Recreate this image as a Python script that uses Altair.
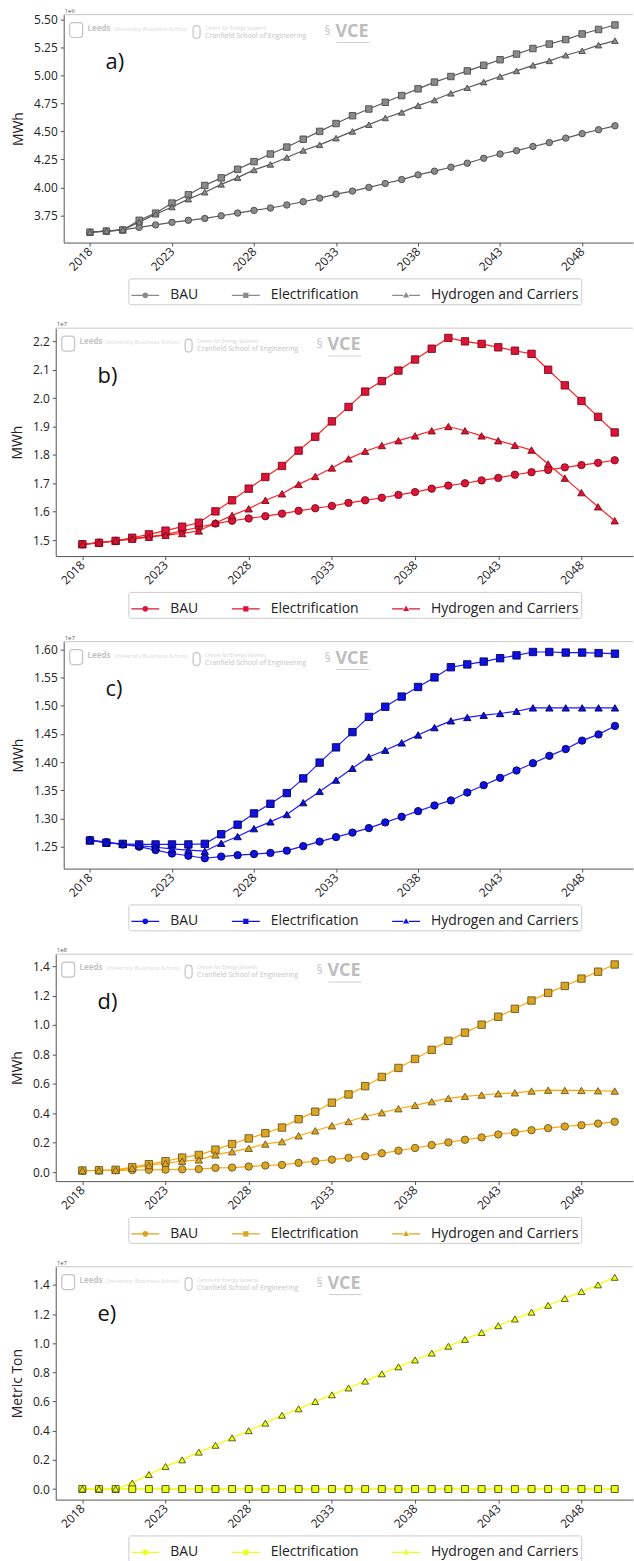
import altair as alt
import pandas as pd

# ---------------------------------------------------------------- data
years = list(range(2018, 2051))
series_names = ["BAU", "Electrification", "Hydrogen and Carriers"]
x_ticks = [2018, 2023, 2028, 2033, 2038, 2043, 2048]

# a) MWh, x1e6
a_bau = [3.60, 3.61, 3.62, 3.643, 3.665, 3.688, 3.706, 3.723, 3.747, 3.771, 3.795,
         3.816, 3.843, 3.872, 3.904, 3.94, 3.967, 4.0, 4.035, 4.07, 4.112, 4.145,
         4.18, 4.216, 4.26, 4.298, 4.328, 4.365, 4.40, 4.44, 4.48, 4.515, 4.55]
a_elec = [3.60, 3.61, 3.62, 3.706, 3.77, 3.86, 3.934, 4.017, 4.085, 4.162, 4.23,
          4.298, 4.36, 4.43, 4.50, 4.57, 4.64, 4.70, 4.76, 4.82, 4.88, 4.94,
          4.99, 5.04, 5.09, 5.14, 5.19, 5.24, 5.28, 5.32, 5.37, 5.41, 5.45]
a_h2 = [3.60, 3.61, 3.62, 3.69, 3.76, 3.825, 3.895, 3.957, 4.027, 4.087, 4.156,
        4.205, 4.267, 4.33, 4.38, 4.44, 4.50, 4.56, 4.62, 4.67, 4.73, 4.78,
        4.84, 4.89, 4.94, 4.99, 5.04, 5.09, 5.13, 5.18, 5.22, 5.27, 5.31]

# b) MWh, x1e7
b_bau = [1.485, 1.491, 1.497, 1.505, 1.512, 1.519, 1.532, 1.545, 1.558, 1.568, 1.576,
         1.584, 1.593, 1.603, 1.612, 1.62, 1.631, 1.64, 1.649, 1.659, 1.669, 1.681,
         1.692, 1.70, 1.71, 1.719, 1.73, 1.739, 1.747, 1.756, 1.764, 1.772, 1.781]
b_elec = [1.485, 1.49, 1.497, 1.508, 1.52, 1.533, 1.547, 1.561, 1.601, 1.64, 1.681,
          1.722, 1.761, 1.815, 1.864, 1.918, 1.969, 2.023, 2.06, 2.097, 2.136, 2.174,
          2.212, 2.2, 2.191, 2.179, 2.167, 2.156, 2.10, 2.045, 1.99, 1.934, 1.879]
b_h2 = [1.485, 1.49, 1.497, 1.503, 1.51, 1.517, 1.523, 1.532, 1.56, 1.587, 1.61,
        1.64, 1.663, 1.696, 1.724, 1.754, 1.786, 1.813, 1.833, 1.85, 1.867, 1.885,
        1.90, 1.885, 1.867, 1.85, 1.834, 1.817, 1.768, 1.718, 1.667, 1.617, 1.568]

# c) MWh, x1e7
c_bau = [1.262, 1.258, 1.254, 1.25, 1.244, 1.238, 1.234, 1.2295, 1.2325, 1.235, 1.237,
         1.239, 1.243, 1.251, 1.259, 1.267, 1.275, 1.283, 1.293, 1.303, 1.313, 1.323,
         1.332, 1.346, 1.359, 1.372, 1.385, 1.398, 1.411, 1.423, 1.438, 1.449, 1.464]
c_elec = [1.261, 1.257, 1.255, 1.254, 1.254, 1.254, 1.254, 1.255, 1.272, 1.289, 1.309,
          1.326, 1.345, 1.371, 1.399, 1.426, 1.453, 1.48, 1.498, 1.516, 1.533, 1.55,
          1.568, 1.573, 1.578, 1.584, 1.589, 1.595, 1.595, 1.594, 1.594, 1.593, 1.592]
c_h2 = [1.261, 1.257, 1.254, 1.252, 1.249, 1.246, 1.244, 1.242, 1.256, 1.268, 1.282,
        1.294, 1.307, 1.328, 1.348, 1.368, 1.389, 1.409, 1.421, 1.434, 1.448, 1.461,
        1.473, 1.479, 1.483, 1.486, 1.49, 1.496, 1.496, 1.496, 1.496, 1.496, 1.496]

# d) MWh, x1e8
d_bau = [0.010, 0.011, 0.012, 0.014, 0.016, 0.017, 0.019, 0.021, 0.029, 0.031, 0.038,
         0.045, 0.049, 0.063, 0.074, 0.085, 0.097, 0.108, 0.128, 0.146, 0.164, 0.184,
         0.202, 0.22, 0.236, 0.256, 0.27, 0.285, 0.299, 0.31, 0.319, 0.33, 0.342]
d_elec = [0.011, 0.013, 0.016, 0.034, 0.054, 0.074, 0.099, 0.117, 0.153, 0.191, 0.229,
          0.265, 0.303, 0.36, 0.411, 0.472, 0.528, 0.584, 0.647, 0.708, 0.769, 0.831,
          0.892, 0.948, 1.002, 1.056, 1.11, 1.166, 1.218, 1.265, 1.315, 1.362, 1.411]
d_h2 = [0.010, 0.011, 0.013, 0.027, 0.045, 0.061, 0.074, 0.083, 0.117, 0.139, 0.162,
        0.191, 0.207, 0.247, 0.281, 0.315, 0.344, 0.378, 0.404, 0.431, 0.454, 0.479,
        0.501, 0.515, 0.524, 0.533, 0.539, 0.551, 0.557, 0.555, 0.555, 0.553, 0.551]

# e) Metric Ton, x1e7
e_bau = [0.0, 0.0, 0.0, 0.0, 0.0, 0.0, 0.0, 0.0, 0.0, 0.0, 0.0,
         0.0, 0.0, 0.0, 0.0, 0.0, 0.0, 0.0, 0.0, 0.0, 0.0, 0.0,
         0.0, 0.0, 0.0, 0.0, 0.0, 0.0, 0.0, 0.0, 0.0, 0.0, 0.0]
e_elec = [0.0, 0.0, 0.0, 0.0, 0.0, 0.0, 0.0, 0.0, 0.0, 0.0, 0.0,
          0.0, 0.0, 0.0, 0.0, 0.0, 0.0, 0.0, 0.0, 0.0, 0.0, 0.0,
          0.0, 0.0, 0.0, 0.0, 0.0, 0.0, 0.0, 0.0, 0.0, 0.0, 0.0]
e_h2 = [0.0, 0.0, 0.0, 0.042, 0.10, 0.155, 0.20, 0.253, 0.30, 0.351, 0.40,
        0.452, 0.506, 0.55, 0.60, 0.646, 0.693, 0.74, 0.79, 0.838, 0.885, 0.932,
        0.979, 1.026, 1.073, 1.12, 1.166, 1.213, 1.26, 1.307, 1.354, 1.40, 1.452]

FONT = "Open Sans"
MARKERS = ["circle", "square", "triangle-up"]
# legend keys: a short line segment on each side of the marker
_LINE = "M-1,-0.045L-0.2,-0.045L-0.2,0.045L-1,0.045ZM0.2,-0.045L1,-0.045L1,0.045L0.2,0.045Z"
KEY_PATHS = [
    _LINE + "M-0.21,0A0.21,0.21,0,1,1,0.21,0A0.21,0.21,0,1,1,-0.21,0Z",
    _LINE + "M-0.19,-0.19L0.19,-0.19L0.19,0.19L-0.19,0.19Z",
    _LINE + "M0,-0.23L0.22,0.15L-0.22,0.15Z",
]
PLOT_W = 580
LEG_X, LEG_W, LEG_H = 73, 448, 23


def one_row(**kw):
    return pd.DataFrame({k: [v] for k, v in kw.items()})


def panel(series, tag, exponent, ylabel, yticks, yfmt, ydomain, inset, height,
          line_c, fill_c, edge_c, msize):
    """inset: horizontal shift of the y axis into the view (wider tick labels)."""
    rows = []
    for name, vals in zip(series_names, series):
        for yr, v in zip(years, vals):
            rows.append({"year": yr, "series": name, "value": v})
    df = pd.DataFrame(rows)

    x = alt.X("year:Q",
              scale=alt.Scale(domain=[2016.4, 2051.1], range=[inset, PLOT_W],
                              nice=False, zero=False),
              axis=alt.Axis(values=x_ticks, format="d", title=None, labelAngle=315,
                            labelAlign="right", labelBaseline="middle",
                            labelPadding=3, labelFlush=False))
    y = alt.Y("value:Q",
              scale=alt.Scale(domain=ydomain, nice=False, zero=False),
              axis=alt.Axis(values=yticks, format=yfmt, title=ylabel, offset=-inset,
                            titlePadding=8, labelPadding=3))

    base = alt.Chart(df)
    lines = base.mark_line(color=line_c, strokeWidth=1.2).encode(
        x=x, y=y, detail="series:N")
    points = base.mark_point(filled=True, fill=fill_c, stroke=edge_c,
                             strokeWidth=0.9, size=msize, opacity=1).encode(
        x=x, y=y,
        shape=alt.Shape("series:N",
                        scale=alt.Scale(domain=series_names, range=MARKERS),
                        legend=None))
    ly = height + 36
    key = base.transform_filter("datum.value < -1e9").mark_point(
        filled=True, fill=fill_c, opacity=1).encode(
        x=x, y=y,
        shape=alt.Shape("series:N",
                        scale=alt.Scale(domain=series_names, range=KEY_PATHS),
                        legend=alt.Legend(
                            title=None, orient="none", direction="horizontal",
                            legendX=LEG_X, legendY=ly,
                            symbolSize=784, symbolFillColor=fill_c, symbolOpacity=1,
                            labelFont=FONT, labelFontSize=14, labelColor="#222",
                            labelOffset=10, columnPadding=30, padding=2,
                            strokeColor="#cccccc", fillColor="white",
                            cornerRadius=2)))
    shadow = alt.Chart(one_row(k=0)).mark_rect(fill="#d4d4d4").encode(
        x=alt.value(LEG_X + 3), x2=alt.value(LEG_X + 3 + LEG_W),
        y=alt.value(ly + 3), y2=alt.value(ly + 3 + LEG_H))

    top_rule = alt.Chart(one_row(k=0)).mark_rule(color="#c8c8c8", strokeWidth=1).encode(
        x=alt.value(inset), x2=alt.value(PLOT_W), y=alt.value(0))
    offset = alt.Chart(one_row(t=exponent)).mark_text(
        font=FONT, fontSize=6, color="#555", align="left", baseline="alphabetic").encode(
        text="t:N", x=alt.value(inset + 1), y=alt.value(-2))
    tag_text = alt.Chart(one_row(t=tag)).mark_text(
        font=FONT, fontSize=22, color="#111", align="left", baseline="middle").encode(
        text="t:N", x=alt.value(inset + 42), y=alt.value(48))

    # faint partner logos across the top of each plot
    wm = "#c4c4c4"
    o = inset
    logo_box = alt.Chart(one_row(k=0)).mark_rect(
        fill=None, stroke=wm, strokeWidth=1.2, cornerRadius=3).encode(
        x=alt.value(o + 6), x2=alt.value(o + 19), y=alt.value(8), y2=alt.value(23))
    leeds = alt.Chart(one_row(t="Leeds")).mark_text(
        font=FONT, fontSize=8, fontWeight="bold", color=wm, align="left",
        baseline="middle").encode(text="t:N", x=alt.value(o + 24), y=alt.value(14))
    leeds_sub = alt.Chart(one_row(t="University Business School")).mark_text(
        font=FONT, fontSize=6, color="#dadada", align="left",
        baseline="middle").encode(text="t:N", x=alt.value(o + 50), y=alt.value(14))
    shield = alt.Chart(one_row(k=0)).mark_rect(
        fill=None, stroke=wm, strokeWidth=1.2, cornerRadius=4).encode(
        x=alt.value(o + 130), x2=alt.value(o + 137), y=alt.value(11), y2=alt.value(24))
    cran_top = alt.Chart(one_row(t="Centre for Energy Systems")).mark_text(
        font=FONT, fontSize=5, color="#d6d6d6", align="left",
        baseline="middle").encode(text="t:N", x=alt.value(o + 142), y=alt.value(13))
    cran = alt.Chart(one_row(t="Cranfield School of Engineering")).mark_text(
        font=FONT, fontSize=7, color=wm, align="left",
        baseline="middle").encode(text="t:N", x=alt.value(o + 142), y=alt.value(21))
    swirl = alt.Chart(one_row(t="\u00a7")).mark_text(
        font=FONT, fontSize=12, color=wm, align="left",
        baseline="middle").encode(text="t:N", x=alt.value(o + 262), y=alt.value(16))
    vce = alt.Chart(one_row(t="VCE")).mark_text(
        font=FONT, fontSize=18, fontWeight="bold", color="#bdbdbd", align="left",
        baseline="middle").encode(text="t:N", x=alt.value(o + 273), y=alt.value(17))
    vce_line = alt.Chart(one_row(k=0)).mark_rule(color="#cfcfcf", strokeWidth=1).encode(
        x=alt.value(o + 274), x2=alt.value(o + 307), y=alt.value(28))

    return alt.layer(
        top_rule, logo_box, leeds, leeds_sub, shield, cran_top, cran, swirl, vce,
        vce_line, shadow, lines, points, key, offset, tag_text
    ).resolve_scale(shape="independent").properties(width=PLOT_W, height=height)


pa = panel([a_bau, a_elec, a_h2], "a)", "1e6", "MWh",
           [3.75, 4.0, 4.25, 4.5, 4.75, 5.0, 5.25, 5.5], ".2f", [3.5075, 5.5425],
           8, 229, "#5a5a5a", "#8a8a8a", "#4a4a4a", 42)
pb = panel([b_bau, b_elec, b_h2], "b)", "1e7", "MWh",
           [1.5, 1.6, 1.7, 1.8, 1.9, 2.0, 2.1, 2.2], ".1f", [1.4435, 2.2465],
           0, 229, "#ff1f1f", "#dc143c", "#7a0a14", 55)
pc = panel([c_bau, c_elec, c_h2], "c)", "1e7", "MWh",
           [1.25, 1.3, 1.35, 1.4, 1.45, 1.5, 1.55, 1.6], ".2f", [1.2112, 1.6133],
           8, 228, "#1a1aff", "#1010e0", "#00005a", 55)
pd_ = panel([d_bau, d_elec, d_h2], "d)", "1e8", "MWh",
            [0.0, 0.2, 0.4, 0.6, 0.8, 1.0, 1.2, 1.4], ".1f", [-0.061, 1.481],
            0, 228, "#ffa500", "#daa520", "#6b5520", 55)
pe = panel([e_bau, e_elec, e_h2], "e)", "1e7", "Metric Ton",
           [0.0, 0.2, 0.4, 0.6, 0.8, 1.0, 1.2, 1.4], ".1f", [-0.0726, 1.5246],
           0, 234, "#f4ff00", "#ecff1a", "#4d4d10", 48)

chart = alt.vconcat(pa, pb, pc, pd_, pe, spacing=16).properties(
    padding={"left": 10, "top": 4, "right": 0, "bottom": 0},
    background="white",
).configure_view(stroke=None).configure_axis(
    labelFont=FONT, labelFontSize=12, labelColor="#222",
    titleFont=FONT, titleFontSize=14, titleFontWeight="normal", titleColor="#222",
    domainColor="#555", domainWidth=1, tickColor="#555", tickSize=3.5, grid=False,
)

chart.save("out.html", embed_options={"renderer": "svg", "actions": False})
